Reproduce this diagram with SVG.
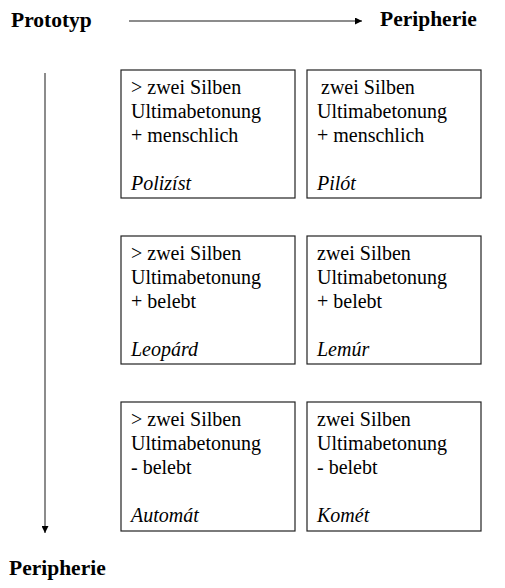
<svg xmlns="http://www.w3.org/2000/svg" width="505" height="588" viewBox="0 0 505 588">
<style>
.box{fill:#fff;stroke:#222;stroke-width:1.2}
.t{font-family:"Liberation Serif","DejaVu Serif",serif;font-size:20px;fill:#000}
.i{font-style:italic}
.h{font-family:"Liberation Serif","DejaVu Serif",serif;font-size:21.5px;font-weight:bold;fill:#000}
.ln{stroke:#666;stroke-width:1.5;fill:none}
</style>
<defs>
<marker id="ah" viewBox="0 0 10 10" refX="10" refY="5" markerWidth="7" markerHeight="7" markerUnits="userSpaceOnUse" orient="auto"><path d="M0,0L10,5L0,10z" fill="#000"/></marker>
</defs>
<rect width="505" height="588" fill="#fff"/>
<g id="labels">
<text class="h" x="11" y="27">Prototyp</text>
<text class="h" x="380" y="26">Peripherie</text>
<text class="h" x="9" y="575">Peripherie</text>
</g>
<g id="connectors">
<line class="ln" x1="129" y1="21" x2="362" y2="21" marker-end="url(#ah)"/>
<line class="ln" x1="45" y1="73" x2="45" y2="533" marker-end="url(#ah)"/>
</g>
<g id="n1"><rect class="box" x="121" y="70" width="174" height="128"/>
<text class="t" x="131" y="94">&gt; zwei Silben</text><text class="t" x="131" y="118">Ultimabetonung</text><text class="t" x="131" y="142">+ menschlich</text><text class="t i" x="131" y="190">Polizíst</text></g>
<g id="n2"><rect class="box" x="307" y="70" width="174" height="128"/>
<text class="t" x="321" y="94">zwei Silben</text><text class="t" x="317" y="118">Ultimabetonung</text><text class="t" x="317" y="142">+ menschlich</text><text class="t i" x="317" y="190">Pilót</text></g>
<g id="n3"><rect class="box" x="121" y="236" width="174" height="128"/>
<text class="t" x="131" y="260">&gt; zwei Silben</text><text class="t" x="131" y="284">Ultimabetonung</text><text class="t" x="131" y="308">+ belebt</text><text class="t i" x="131" y="356">Leopárd</text></g>
<g id="n4"><rect class="box" x="307" y="236" width="174" height="128"/>
<text class="t" x="317" y="260">zwei Silben</text><text class="t" x="317" y="284">Ultimabetonung</text><text class="t" x="317" y="308">+ belebt</text><text class="t i" x="317" y="356">Lemúr</text></g>
<g id="n5"><rect class="box" x="121" y="402" width="174" height="129"/>
<text class="t" x="131" y="426">&gt; zwei Silben</text><text class="t" x="131" y="450">Ultimabetonung</text><text class="t" x="131" y="474">- belebt</text><text class="t i" x="131" y="522">Automát</text></g>
<g id="n6"><rect class="box" x="307" y="402" width="174" height="129"/>
<text class="t" x="317" y="426">zwei Silben</text><text class="t" x="317" y="450">Ultimabetonung</text><text class="t" x="317" y="474">- belebt</text><text class="t i" x="317" y="522">Komét</text></g>
</svg>
